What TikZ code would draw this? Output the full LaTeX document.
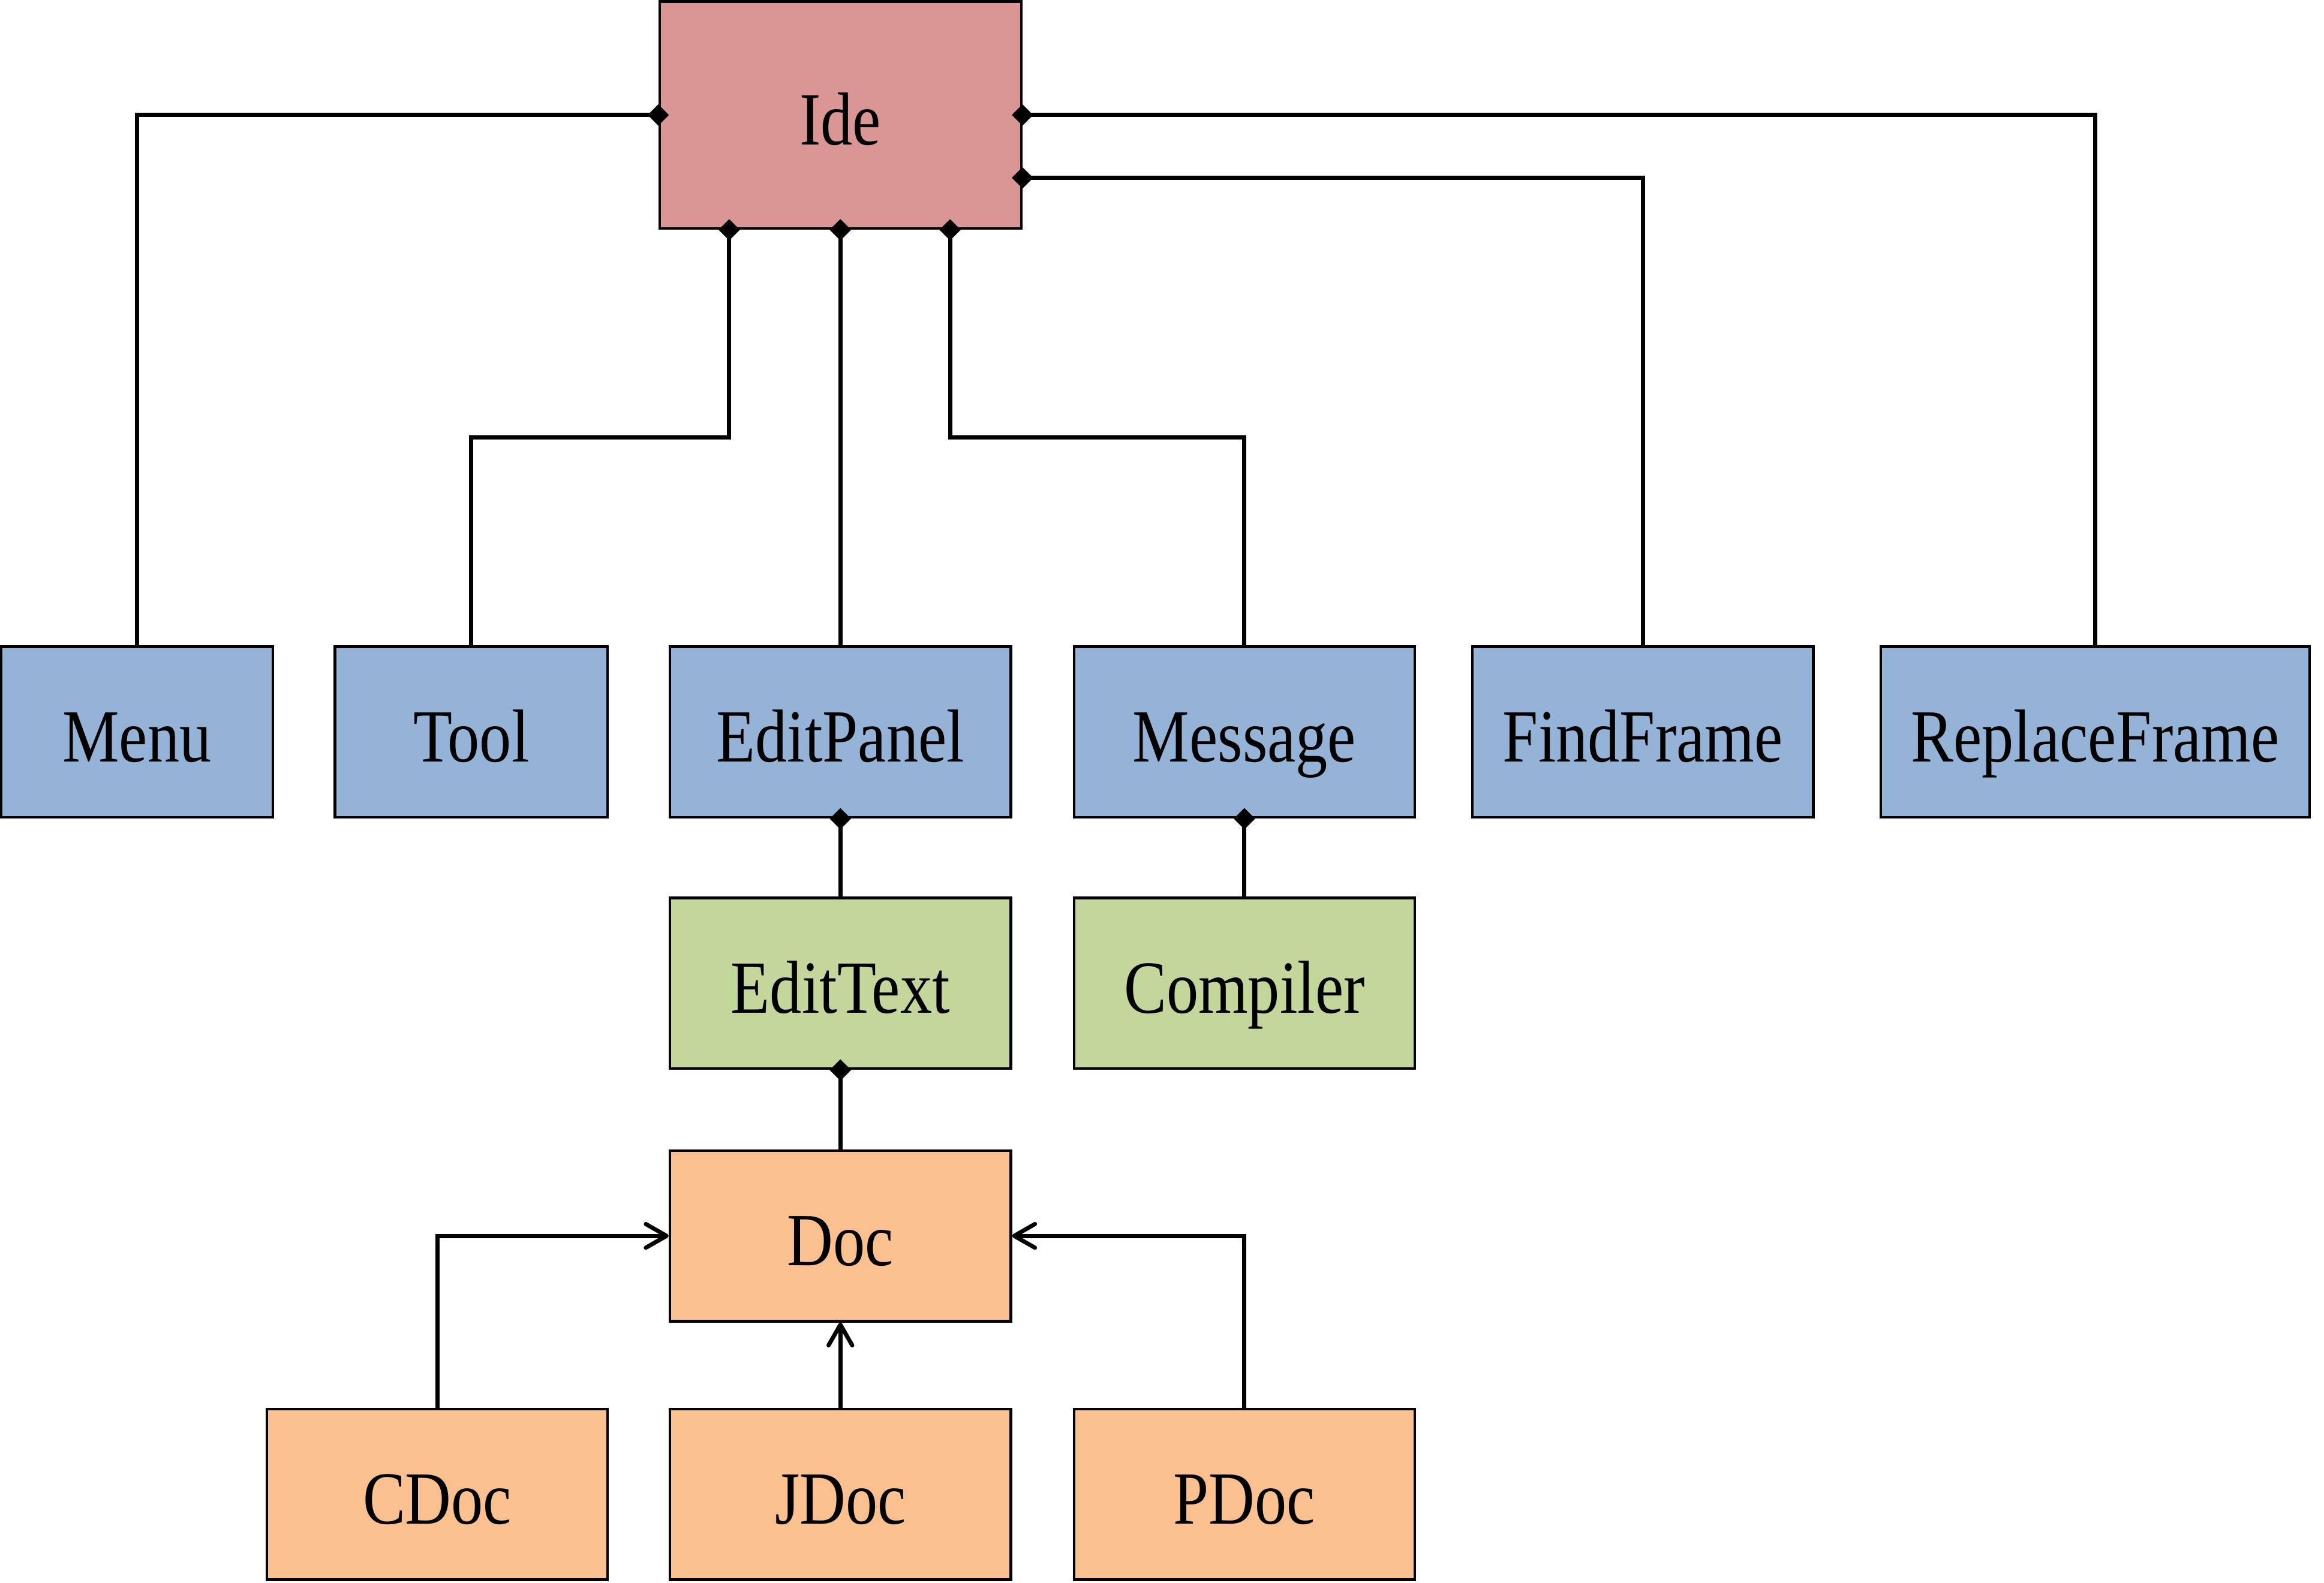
\documentclass[tikz,border=0pt]{standalone}
\usepackage{fontspec}
\setmainfont{Liberation Serif}[FakeStretch=0.85]
\usepackage{tikz}
\usetikzlibrary{arrows.meta, calc}
\definecolor{ideRed}{HTML}{D99694}
\definecolor{clsBlue}{HTML}{95B3D7}
\definecolor{clsGreen}{HTML}{C3D69B}
\definecolor{clsOrange}{HTML}{FAC090}

\begin{document}
\begin{tikzpicture}[
    every node/.style={font=\fontsize{36}{40}\selectfont},
    cls/.style={draw, line width=1.25pt, inner sep=0pt, minimum height=2.88cm,
                text height=1cm, text depth=0pt},
    comp/.style={line width=2pt, arrows={Diamond[length=3.6mm,width=3.6mm]-}, shorten <=-1.8mm},
    inh/.style={line width=2pt, arrows={-Straight Barb[length=3.5mm,width=4mm,round]}}]
  \useasboundingbox (0,0) rectangle (39.2,-26.7);

  % Hauptklasse
  \node[cls, fill=ideRed, minimum width=6.1cm, minimum height=3.83cm] (Ide) at (14.175,-1.94) {Ide};

  % obere Reihe
  \foreach \n/\x/\w in {Menu/2.31/4.58, Tool/7.95/4.6, EditPanel/14.175/5.75,
                        Message/20.99/5.75, FindFrame/27.71/5.75, ReplaceFrame/35.34/7.23} {
      \node[cls, fill=clsBlue, minimum width=\w cm] (\n) at (\x,-12.35) {\n};
  }

  % mittlere Reihe
  \node[cls, fill=clsGreen, minimum width=5.75cm] (EditText) at (14.175,-16.59) {EditText};
  \node[cls, fill=clsGreen, minimum width=5.75cm] (Compiler) at (20.99,-16.59) {Compiler};
  \node[cls, fill=clsOrange, minimum width=5.75cm] (Doc) at (14.175,-20.85) {Doc};

  % Dokumenttypen
  \foreach \n/\x in {CDoc/7.375, JDoc/14.175, PDoc/20.99} {
      \node[cls, fill=clsOrange, minimum width=5.75cm] (\n) at (\x,-25.21) {\n};
  }

  % Verbindungen von Ide
  \coordinate (toolOut) at ([xshift=-1.875cm]Ide.south);
  \coordinate (msgOut) at ([xshift=1.85cm]Ide.south);
  \coordinate (findOut) at ([yshift=-1.06cm]Ide.east);
  \coordinate (toolBend) at (toolOut |- 0,-7.375);
  \coordinate (msgBend) at (msgOut |- 0,-7.375);
  \draw[comp] (Ide.west) -| (Menu.north);
  \draw[comp] (toolOut) -- (toolBend) -| (Tool.north);
  \draw[comp] (Ide.south) -- (EditPanel.north);
  \draw[comp] (msgOut) -- (msgBend) -| (Message.north);
  \draw[comp] (findOut) -| (FindFrame.north);
  \draw[comp] (Ide.east) -| (ReplaceFrame.north);

  % Teile
  \draw[comp] (EditPanel.south) -- (EditText.north);
  \draw[comp] (Message.south) -- (Compiler.north);
  \draw[comp] (EditText.south) -- (Doc.north);

  % Vererbung
  \draw[inh] (CDoc.north) |- (Doc.west);
  \draw[inh] (JDoc.north) -- (Doc.south);
  \draw[inh] (PDoc.north) |- (Doc.east);
\end{tikzpicture}
\end{document}
